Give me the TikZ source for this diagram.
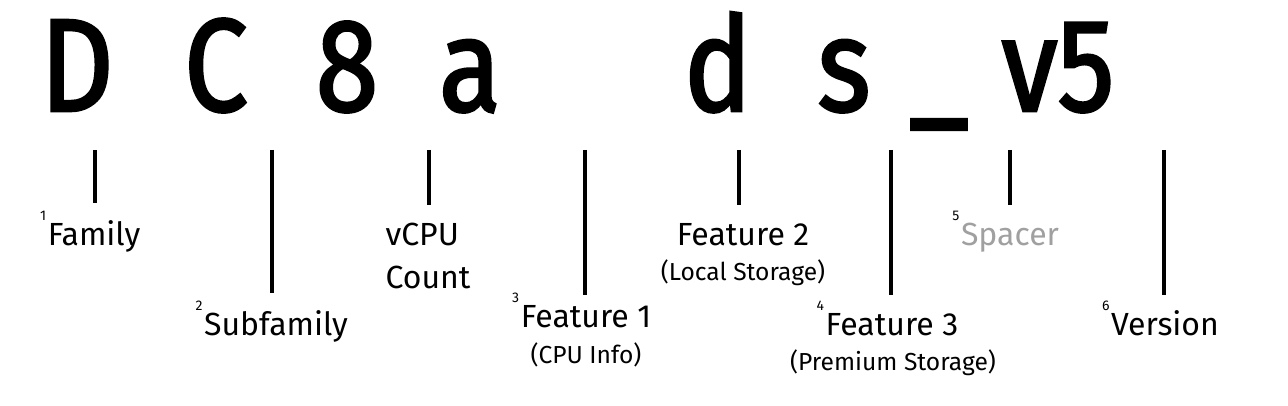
\documentclass[tikz,border=0pt]{standalone}
\usepackage{fontspec}
\setmainfont{Fira Sans}
\newfontfamily\bigletters[FakeBold=2,FakeStretch=0.86]{Fira Sans}
\usepackage{xcolor}
\definecolor{spacergrey}{HTML}{A0A0A0}
\newcommand{\supnum}[1]{\llap{\raisebox{0.78em}{\fontsize{7}{7}\selectfont #1}\hspace{0.8pt}}}

\begin{document}
\begin{tikzpicture}[x=0.5pt,y=-0.5pt,
    letter/.style={inner sep=0,anchor=base,font=\bigletters\fontsize{66}{66}\selectfont},
    tick/.style={line width=2pt},
    partlabel/.style={inner sep=0,anchor=base,font=\fontsize{16}{16}\selectfont},
    partnote/.style={inner sep=0,anchor=base,font=\fontsize{12.3}{12.3}\selectfont}]
    \useasboundingbox (0,0) rectangle (1288,406);
    % the name, one letter at a time
    \foreach \n/\x/\c in {
     D/77/D,C/216/C,eight/347/8,a/470/a,d/718/d,s/844/s,v/1058/v5
     } {
      \node[letter] (let\n) at (\x,111) {\c};
     }
    \node[letter] (letunder) at (939,111) {\_};
    % ticks under the letters
    \foreach \n/\x/\b in {
     1/95/203,2/272/293,3/429/205,4/585/295,5/739/205,6/891/295,7/1010/205,8/1164/295
     } {
      \coordinate (top\n) at (\x,150);
      \coordinate (bot\n) at (\x,\b);
      \draw[tick] (top\n) -- (bot\n);
     }
    % what each part means
    \node[partlabel] (family) at (94,245) {\supnum{1}Family};
    \node[partlabel] (subfamily) at (276,335) {\supnum{2}Subfamily};
    \node[partlabel] (count) at (428,288) {Count};
    \node[partlabel,anchor=base west] (vcpu) at ([yshift=21.5pt]count.base west) {vCPU};
    \node[partlabel] (feature1) at (586,327) {\supnum{3}Feature 1};
    \node[partnote] (cpuinfo) at (586,363) {(CPU Info)};
    \node[partlabel] (feature2) at (743,245) {Feature 2};
    \node[partnote] (localstorage) at (743,280) {(Local Storage)};
    \node[partlabel] (feature3) at (892,335) {\supnum{4}Feature 3};
    \node[partnote] (premiumstorage) at (893,370) {(Premium Storage)};
    \node[partlabel] (spacer) at (1010,245) {\supnum{5}\textcolor{spacergrey}{Spacer}};
    \node[partlabel] (version) at (1165,335) {\supnum{6}Version};
   \end{tikzpicture}
\end{document}
